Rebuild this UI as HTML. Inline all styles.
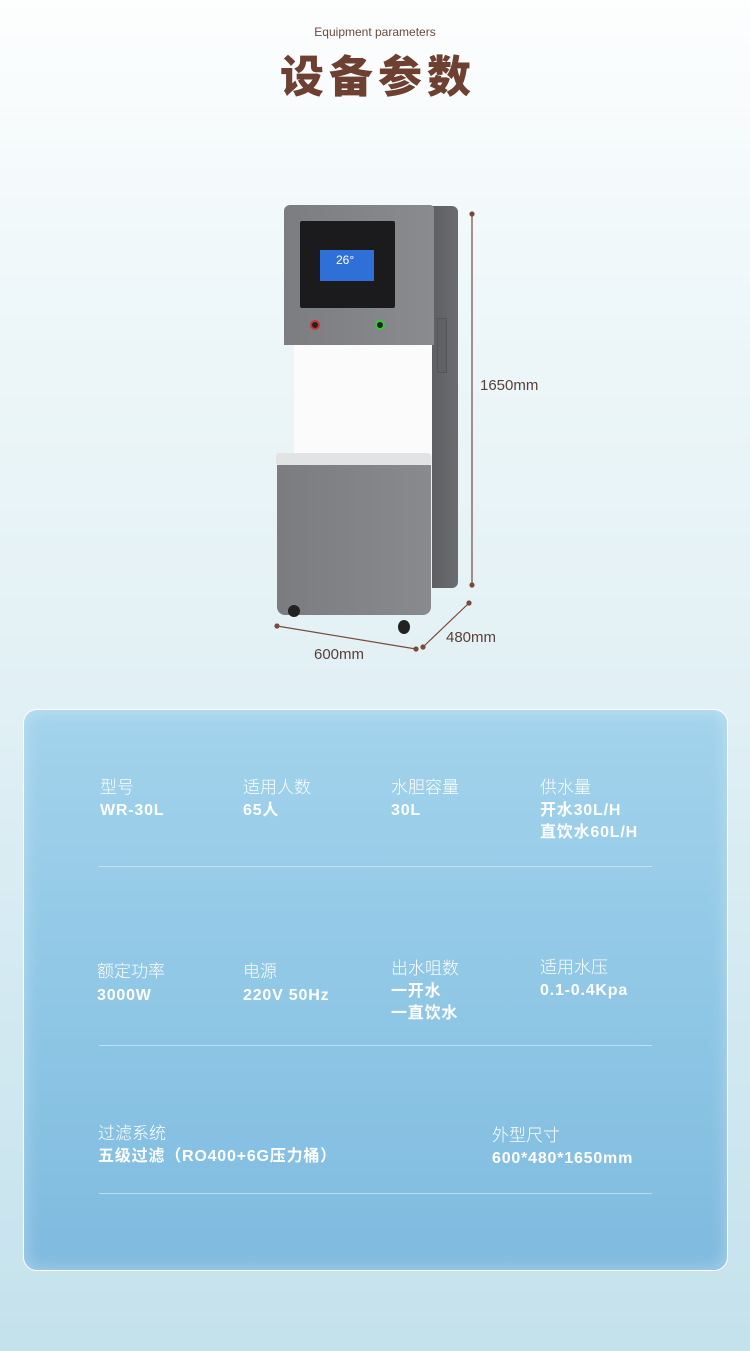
<!DOCTYPE html>
<html><head><meta charset="utf-8"><style>
*{margin:0;padding:0;box-sizing:border-box}
body{width:750px;height:1351px;position:relative;overflow:hidden;font-family:"Liberation Sans","Noto Sans CJK SC",sans-serif;background:linear-gradient(#fdfefe 0px,#eef7f9 300px,#e3f1f5 650px,#d3e9f1 1000px,#c4e2ec 1351px)}
.a{position:absolute}
.l{position:absolute;color:#fff;font-size:17px;line-height:22px;font-weight:300}
.v{position:absolute;color:#fff;font-size:16px;line-height:22px;font-weight:bold;letter-spacing:0.8px}
.hr{position:absolute;left:99px;width:553px;height:1px;background:rgba(255,255,255,.45)}
</style></head><body>
<div class="a" style="top:25px;left:0;width:750px;text-align:center;font-size:12px;color:#6b4a3c">Equipment parameters</div>
<div class="a" style="top:50px;left:3px;width:750px;text-align:center;font-size:44px;font-weight:900;color:#6e4032;letter-spacing:5px;line-height:56px">设备参数</div>

<!-- machine -->
<div class="a" style="left:432px;top:206px;width:26px;height:382px;background:linear-gradient(90deg,#5e5f63,#6b6c70);border-radius:0 6px 6px 0"></div>
<div class="a" style="left:437px;top:318px;width:10px;height:55px;background:#606165;border:1px solid #555"></div>
<div class="a" style="left:284px;top:205px;width:150px;height:140px;background:linear-gradient(90deg,#7c7d81,#8a8b8f);border-radius:6px 4px 0 0"></div>
<div class="a" style="left:300px;top:221px;width:95px;height:87px;background:#1b1b1d;border-radius:2px"></div>
<div class="a" style="left:320px;top:250px;width:54px;height:31px;background:#2f6fd8"></div>
<div class="a" style="left:336px;top:253px;font-size:12px;color:#fff">26°</div>
<div class="a" style="left:310px;top:320px;width:10px;height:10px;border-radius:50%;border:2px solid #c33;background:#222"></div>
<div class="a" style="left:375px;top:320px;width:10px;height:10px;border-radius:50%;border:2px solid #3c3;background:#222"></div>
<div class="a" style="left:294px;top:345px;width:138px;height:110px;background:#fbfbfb"></div>
<div class="a" style="left:276px;top:453px;width:155px;height:12px;background:#e1e3e5;border-radius:3px"></div>
<div class="a" style="left:277px;top:465px;width:154px;height:150px;background:linear-gradient(90deg,#7b7c80,#898a8e);border-radius:0 0 8px 8px"></div>
<div class="a" style="left:288px;top:605px;width:12px;height:12px;border-radius:50%;background:#222"></div>
<div class="a" style="left:398px;top:620px;width:12px;height:14px;border-radius:50%;background:#222"></div>
<svg class="a" style="left:0;top:0" width="750" height="700">
<g stroke="#7a4a3a" stroke-width="1.2" fill="#7a4a3a">
<line x1="472" y1="214" x2="472" y2="585"/><circle cx="472" cy="214" r="2"/><circle cx="472" cy="585" r="2"/>
<line x1="277" y1="626" x2="416" y2="649"/><circle cx="277" cy="626" r="2"/><circle cx="416" cy="649" r="2"/>
<line x1="423" y1="647" x2="469" y2="603"/><circle cx="423" cy="647" r="2"/><circle cx="469" cy="603" r="2"/>
</g></svg>
<div class="a" style="left:480px;top:377px;font-size:15px;color:#5a4038">1650mm</div>
<div class="a" style="left:446px;top:629px;font-size:15px;color:#5a4038">480mm</div>
<div class="a" style="left:314px;top:646px;font-size:15px;color:#5a4038">600mm</div>

<!-- panel -->
<div class="a" style="left:23px;top:709px;width:705px;height:562px;border:1.5px solid #fff;border-radius:14px;background:linear-gradient(#a3d3ec,#8cc5e4 60%,#7fbadf);box-shadow:inset 0 0 18px rgba(255,255,255,.35)"></div>

<div class="l" style="left:100px;top:777px">型号</div><div class="v" style="left:100px;top:800px">WR-30L</div>
<div class="l" style="left:243px;top:777px">适用人数</div><div class="v" style="left:243px;top:800px">65人</div>
<div class="l" style="left:391px;top:777px">水胆容量</div><div class="v" style="left:391px;top:800px">30L</div>
<div class="l" style="left:540px;top:777px">供水量</div><div class="v" style="left:540px;top:800px">开水30L/H<br>直饮水60L/H</div>
<div class="hr" style="top:866px"></div>

<div class="l" style="left:97px;top:961px">额定功率</div><div class="v" style="left:97px;top:985px">3000W</div>
<div class="l" style="left:243px;top:961px">电源</div><div class="v" style="left:243px;top:985px">220V 50Hz</div>
<div class="l" style="left:391px;top:958px">出水咀数</div><div class="v" style="left:391px;top:981px">一开水<br>一直饮水</div>
<div class="l" style="left:540px;top:957px">适用水压</div><div class="v" style="left:540px;top:980px">0.1-0.4Kpa</div>
<div class="hr" style="top:1045px"></div>

<div class="l" style="left:98px;top:1123px">过滤系统</div><div class="v" style="left:98px;top:1146px">五级过滤（RO400+6G压力桶）</div>
<div class="l" style="left:492px;top:1125px">外型尺寸</div><div class="v" style="left:492px;top:1148px">600*480*1650mm</div>
<div class="hr" style="top:1193px"></div>
</body></html>
